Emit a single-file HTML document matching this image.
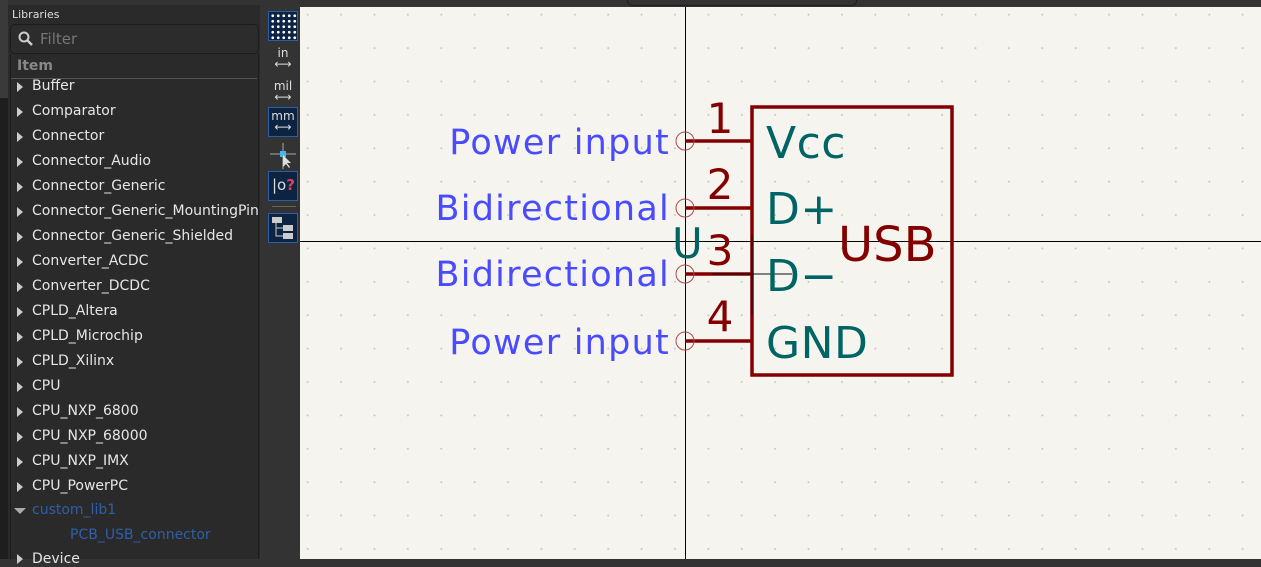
<!DOCTYPE html>
<html><head><style>
body{margin:0;width:1261px;height:559px;overflow:hidden;background:#333;font-family:"DejaVu Sans","Liberation Sans",sans-serif;position:relative}
.a{position:absolute}
#panel{left:8px;top:5px;width:252px;height:554px;background:#2a2a2a}
.row{position:absolute;left:32px;font-size:14px;color:#e6e6e6;white-space:nowrap}
.tri{position:absolute;left:17px;width:0;height:0;border-top:5px solid transparent;border-bottom:5px solid transparent;border-left:6px solid #ccc}
#canvas{left:300px;top:7px;width:961px;height:552px;background:#f5f4ef;
background-image:radial-gradient(circle,#c8c8c8 0.8px,transparent 1.2px);background-size:33.4px 33.4px;background-position:-9px -9px}
.tb{position:absolute;left:267px;width:30px;height:30px;box-sizing:border-box}
.sel{background:#0c2342;border:1px solid #2a5fa8}
</style></head><body>
<div class="a" style="left:0;top:0;width:8px;height:559px;background:#1e1e1e"></div>
<div class="a" style="left:0;top:0;width:8px;height:98px;background:#3a3a3a"></div>
<div class="a" id="panel"></div>
<div class="a" style="left:12px;top:8px;font-size:11px;color:#ddd">Libraries</div>
<div class="a" style="left:10px;top:24px;width:247px;height:28px;border:1px solid #1c1c1c;border-radius:5px;background:#2c2c2c"></div>
<svg class="a" style="left:18px;top:31px" width="16" height="16"><circle cx="6" cy="6" r="4.5" stroke="#ccc" stroke-width="2" fill="none"/><line x1="9.5" y1="9.5" x2="14" y2="14" stroke="#ccc" stroke-width="2.5"/></svg>
<div class="a" style="left:40px;top:30px;font-size:15px;color:#777">Filter</div>
<div class="a" style="left:10px;top:54px;width:247px;height:505px;border-left:1px solid #1c1c1c;border-right:1px solid #1c1c1c"></div>
<div class="a" style="left:17px;top:58px;font-size:14px;color:#888;font-weight:bold">Item</div>
<div id="rows"></div>
<div class="tb sel" style="top:11px;left:268px;width:30px;height:30px;background-image:radial-gradient(circle,#fff 1.2px,transparent 1.6px);background-size:5.5px 5.5px;background-position:1px 1px"></div>
<div class="a" style="left:268px;top:48px;width:30px;text-align:center;font-size:12px;color:#ddd;line-height:11px">in<br>⟷</div>
<div class="a" style="left:268px;top:81px;width:30px;text-align:center;font-size:12px;color:#ddd;line-height:11px">mil<br>⟷</div>
<div class="tb sel" style="top:107px;left:268px;text-align:center;font-size:12px;color:#ddd;line-height:11px;padding-top:3px">mm<br>⟷</div>
<svg class="a" style="left:268px;top:141px" width="30" height="30"><line x1="15" y1="2" x2="15" y2="28" stroke="#aaa"/><line x1="2" y1="13" x2="28" y2="13" stroke="#aaa"/><rect x="12" y="10" width="6" height="6" fill="#4ab3e8"/><path d="M15 14 L15 26 L18 23 L21 27 L22 26 L19 22 L23 22 Z" fill="#ddd"/></svg>
<div class="tb sel" style="top:171px;left:268px;color:#ddd;font-size:15px;padding:4px 0 0 3px">|o<span style="color:#e0405a;font-weight:bold">?</span></div>
<div class="a" style="left:272px;top:206px;width:24px;height:1px;background:#666"></div>
<div class="tb sel" style="top:213px;left:268px"><svg width="28" height="28"><rect x="3" y="3" width="10" height="6" fill="#ccc"/><rect x="14" y="11" width="10" height="6" fill="#ccc"/><rect x="14" y="19" width="10" height="6" fill="#ccc"/><path d="M7 9 V22 H14 M7 14 H14" stroke="#ccc" fill="none"/></svg></div>
<div class="a" id="canvas"></div>
<div class="a" style="left:627px;top:0;width:228px;height:5px;border:1px solid #1e1e1e;border-top:none;border-radius:0 0 5px 5px"></div>
<svg class="a" style="left:0;top:0" width="1261" height="559" font-family="'DejaVu Sans','Liberation Sans',sans-serif">
<line x1="300" y1="241.5" x2="1261" y2="241.5" stroke="#000" stroke-width="1"/>
<line x1="685.5" y1="7" x2="685.5" y2="559" stroke="#000" stroke-width="1"/>
<rect x="752" y="107" width="200" height="268" fill="none" stroke="#840000" stroke-width="3.5"/>
<g stroke="#840000" stroke-width="3.5"><line x1="685" y1="141" x2="752" y2="141"/><line x1="685" y1="208" x2="752" y2="208"/><line x1="685" y1="274" x2="752" y2="274"/><line x1="685" y1="341" x2="752" y2="341"/></g>
<g stroke="#b24848" fill="none" stroke-width="1"><circle cx="685" cy="141" r="9"/><circle cx="685" cy="208" r="9"/><circle cx="685" cy="274" r="9"/><circle cx="685" cy="341" r="9"/></g>
<line x1="712" y1="274" x2="792" y2="274" stroke="#111"/><line x1="752" y1="235" x2="752" y2="314" stroke="#111"/>
<g fill="#4a4aff" font-size="35" text-anchor="end" letter-spacing="1.25"><text x="670" y="154">Power input</text><text x="670" y="220">Bidirectional</text><text x="670" y="286">Bidirectional</text><text x="670" y="354">Power input</text></g>
<g fill="#840000" font-size="42" text-anchor="middle"><text x="720" y="133">1</text><text x="720" y="199">2</text><text x="720" y="265">3</text><text x="720" y="331">4</text></g>
<text x="672" y="258" fill="#006464" font-size="42">U</text>
<g fill="#006464" font-size="44" letter-spacing="0.5"><text x="766" y="158">Vcc</text><text x="766" y="224">D+</text><text x="766" y="291">D−</text><text x="766" y="358">GND</text></g>
<text x="838" y="261" fill="#840000" font-size="48">USB</text>
</svg>
<script>
var n=["Buffer","Comparator","Connector","Connector_Audio","Connector_Generic","Connector_Generic_MountingPin","Connector_Generic_Shielded","Converter_ACDC","Converter_DCDC","CPLD_Altera","CPLD_Microchip","CPLD_Xilinx","CPU","CPU_NXP_6800","CPU_NXP_68000","CPU_NXP_IMX","CPU_PowerPC"],h="";
n.forEach(function(t,i){var y=87+i*25;h+='<div class="tri" style="top:'+(y-5)+'px"></div><div class="row" style="top:'+(y-9)+'px">'+t+'</div>';});
h+='<div class="a" style="left:14px;top:508px;border-left:6px solid transparent;border-right:6px solid transparent;border-top:6px solid #aaa"></div><div class="row" style="top:502px;color:#2f5fa8">custom_lib1</div><div class="row" style="left:70px;top:527px;color:#2f5fa8">PCB_USB_connector</div><div class="tri" style="top:554px"></div><div class="row" style="top:551px">Device</div>';
document.getElementById("rows").innerHTML=h;
</script>
<div class="a" style="left:11px;top:78px;width:246px;height:1px;background:#555"></div>
</body></html>
